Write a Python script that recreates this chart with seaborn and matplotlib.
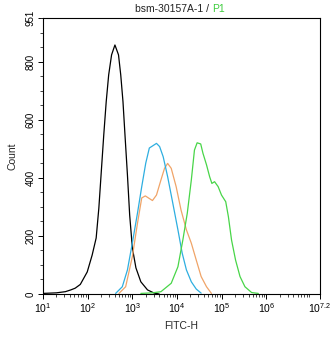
import numpy as np
import pandas as pd
import matplotlib
matplotlib.use("Agg")
import matplotlib.pyplot as plt
import matplotlib.ticker as mticker
import seaborn as sns

# FITC-H values stored as log10 exponents, counts
black_log = [1.0, 1.3, 1.5, 1.62, 1.72, 1.835, 1.99, 2.10, 2.19, 2.25, 2.31, 2.36, 2.415,
             2.47, 2.535, 2.61, 2.69, 2.74, 2.79, 2.835, 2.89, 2.94, 3.0, 3.08, 3.19,
             3.34, 3.49, 3.6]
black_cnt = [2, 4, 8, 14, 20, 33, 76, 134, 193, 296, 434, 548, 663,
             755, 824, 858, 824, 755, 663, 548, 410, 272, 159, 90, 42,
             14, 3, 0]

blue_log = [2.625, 2.775, 2.89, 3.0, 3.115, 3.21, 3.30, 3.38, 3.45, 3.54, 3.61, 3.69,
            3.79, 3.905, 4.02, 4.115, 4.21, 4.32, 4.43, 4.54]
blue_cnt = [2, 25, 83, 176, 279, 370, 451, 503, 510, 519, 508, 473,
            404, 313, 221, 141, 83, 42, 17, 3]

orange_log = [2.70, 2.85, 3.0, 3.115, 3.21, 3.29, 3.36, 3.45, 3.54, 3.64, 3.72, 3.79,
              3.87, 3.98, 4.09, 4.21, 4.32, 4.43, 4.54, 4.66, 4.77]
orange_cnt = [2, 25, 129, 244, 331, 338, 331, 322, 341, 393, 433, 450,
              433, 370, 289, 221, 175, 117, 60, 25, 2]

green_log = [3.19, 3.45, 3.64, 3.87, 4.02, 4.13, 4.23, 4.32, 4.39, 4.45, 4.53, 4.58,
             4.66, 4.73, 4.78, 4.84, 4.92, 4.995, 5.09, 5.15, 5.22, 5.31, 5.41, 5.52,
             5.67, 5.82]
green_cnt = [2, 4, 8, 37, 94, 186, 279, 393, 496, 521, 517, 485,
             445, 404, 381, 387, 370, 341, 318, 266, 186, 117, 60, 25,
             5, 2]

xtick_exp = [1, 2, 3, 4, 5, 6, 7.2]
ytick_vals = [0, 200, 400, 600, 800, 951]

sns.set_style("ticks")
plt.rcParams["font.family"] = ["Liberation Sans", "DejaVu Sans"]
plt.rcParams["mathtext.default"] = "regular"

fig = plt.figure(figsize=(3.34, 3.37), dpi=100)
ax = fig.add_axes([43 / 334, 1 - 294 / 337, 277 / 334, 276 / 337])

series = [(black_log, black_cnt, "black"),
          (orange_log, orange_cnt, "#f0a468"),
          (blue_log, blue_cnt, "#2eaee0"),
          (green_log, green_cnt, "#48d548")]
for lg, cnt, col in series:
    df = pd.DataFrame({"x": 10 ** np.array(lg), "y": cnt})
    sns.lineplot(data=df, x="x", y="y", ax=ax, color=col, linewidth=0.9, sort=False)

ax.set_xscale("log")
ax.set_xlim(10, 10 ** 7.2)
ax.set_ylim(0, 951)
ax.set_xticks([10 ** e for e in xtick_exp])
ax.set_xticklabels([r"$10^{%g}$" % e for e in xtick_exp], fontsize=7.5)
ax.xaxis.set_minor_locator(mticker.LogLocator(base=10, subs=np.arange(2, 10), numticks=20))
ax.xaxis.set_minor_formatter(mticker.NullFormatter())
ax.set_yticks(ytick_vals)
ax.set_yticklabels([str(v) for v in ytick_vals], fontsize=7, rotation=90, va="center")
ax.yaxis.set_minor_locator(mticker.FixedLocator([v for v in range(50, 951, 50) if v % 200]))

for s in ax.spines.values():
    s.set_visible(True)
    s.set_linewidth(0.8)
    s.set_color("black")
ax.tick_params(which="major", length=3.5, width=0.7, pad=2, colors="black")
ax.tick_params(which="minor", length=2, width=0.6)

ax.set_xlabel("FITC-H", fontsize=7.5, labelpad=4)
ax.set_ylabel("Count", fontsize=7.5, labelpad=6)

title_y = 1 + 9 / 276
ax.text((209 - 43) / 277, title_y, "bsm-30157A-1 /", transform=ax.transAxes,
        ha="right", va="center", fontsize=7.5, color="#222222")
ax.text((212 - 43) / 277, title_y, "P1", transform=ax.transAxes,
        ha="left", va="center", fontsize=7.5, color="#3ccc3c")

fig.savefig("out.png", dpi=100)
